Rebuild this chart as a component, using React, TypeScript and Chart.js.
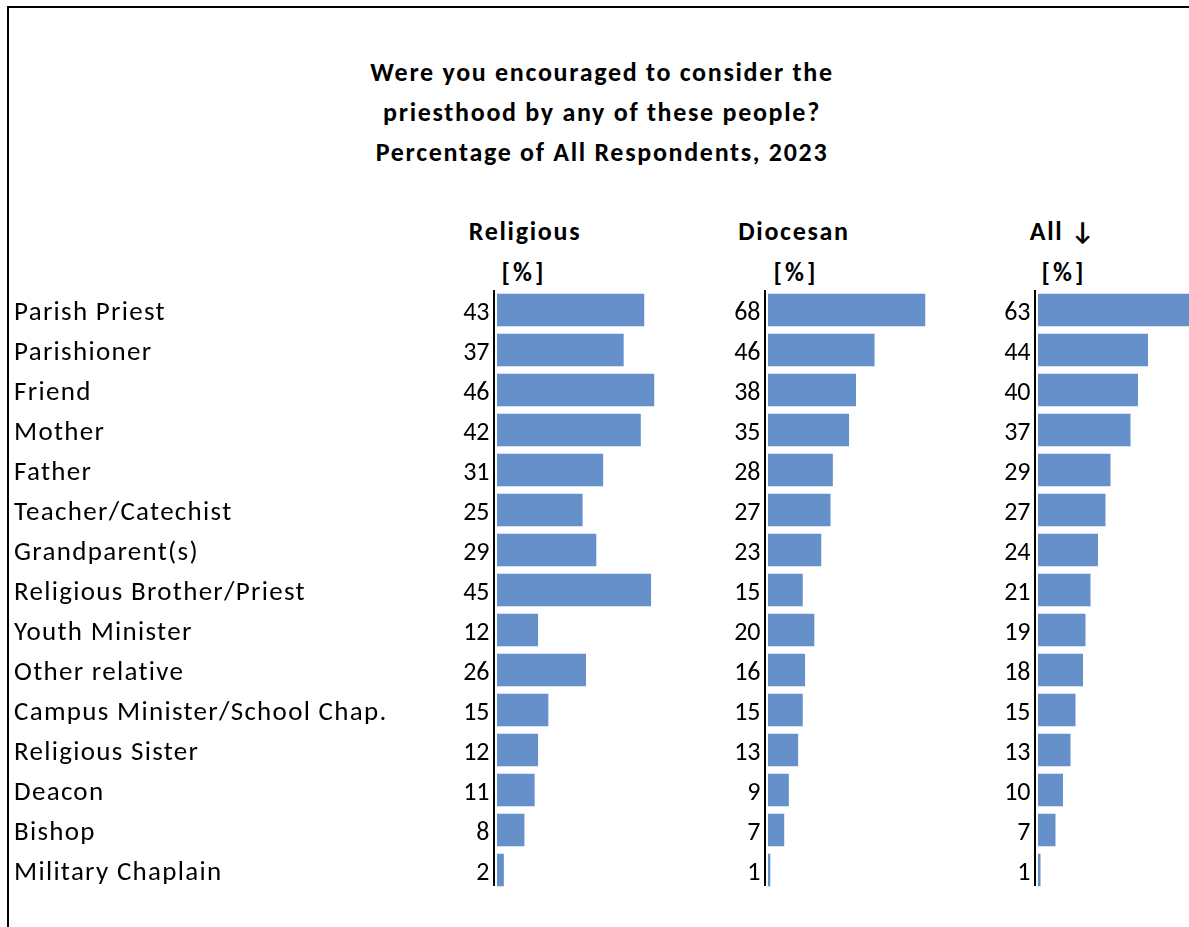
import React, { useEffect, useRef } from 'react';
import { Chart, registerables } from 'chart.js';
Chart.register(...registerables);

const categories = [
  'Parish Priest', 'Parishioner', 'Friend', 'Mother', 'Father', 'Teacher/Catechist',
  'Grandparent(s)', 'Religious Brother/Priest', 'Youth Minister', 'Other relative',
  'Campus Minister/School Chap.', 'Religious Sister', 'Deacon', 'Bishop', 'Military Chaplain',
];
const religiousValues = [43, 37, 46, 42, 31, 25, 29, 45, 12, 26, 15, 12, 11, 8, 2];
const diocesanValues = [68, 46, 38, 35, 28, 27, 23, 15, 20, 16, 15, 13, 9, 7, 1];
const allValues = [63, 44, 40, 37, 29, 27, 24, 21, 19, 18, 15, 13, 10, 7, 1];
const panelHeaders = ['Religious', 'Diocesan', 'All \u2193'];
const unitLabel = '[%]';
const titleLines = [
  'Were you encouraged to consider the',
  'priesthood by any of these people?',
  'Percentage of All Respondents, 2023',
];

const FONT = 'Carlito, Lato, "Liberation Sans", sans-serif';
const BAR_COLOR = '#6590C9';
const CANVAS_W = 1200;
const CANVAS_H = 927;
const PLOT_TOP = 290;
const PLOT_BOTTOM = 890;
const BAR_WIDTH = 157.5;
const LABEL_LEFT = 14;

const panels = [
  { values: religiousValues, left: 497, header: panelHeaders[0], headerX: 525, unitX: 524 },
  { values: diocesanValues, left: 768, header: panelHeaders[1], headerX: 794, unitX: 796 },
  { values: allValues, left: 1038, header: panelHeaders[2], headerX: 1063, unitX: 1064 },
];

function Panel({ index }: { index: number }) {
  const ref = useRef<HTMLCanvasElement | null>(null);
  useEffect(() => {
    const p = panels[index];
    const showLabels = index === 0;
    const valuePlugin = {
      id: 'values' + index,
      beforeDraw(chart: any) {
        chart.ctx.letterSpacing = '1.3px';
      },
      afterDatasetsDraw(chart: any) {
        const ctx = chart.ctx;
        const area = chart.chartArea;
        ctx.save();
        ctx.letterSpacing = '0px';
        ctx.strokeStyle = '#000';
        ctx.lineWidth = 2;
        ctx.beginPath();
        ctx.moveTo(area.left - 3, area.top);
        ctx.lineTo(area.left - 3, area.bottom - 4);
        ctx.stroke();
        ctx.fillStyle = '#000';
        ctx.font = '26px ' + FONT;
        ctx.textAlign = 'right';
        ctx.textBaseline = 'middle';
        const meta = chart.getDatasetMeta(0);
        meta.data.forEach((el: any, i: number) => {
          ctx.fillText(String(chart.data.datasets[0].data[i]), area.left - 7.5, el.y + 3);
        });
        ctx.restore();
      },
    };
    const chart = new Chart(ref.current as HTMLCanvasElement, {
      type: 'bar',
      data: {
        labels: categories,
        datasets: [
          {
            data: p.values,
            backgroundColor: BAR_COLOR,
            borderWidth: 0,
            barPercentage: 0.815,
            categoryPercentage: 1,
          },
        ],
      },
      options: {
        indexAxis: 'y',
        animation: false,
        responsive: false,
        maintainAspectRatio: false,
        devicePixelRatio: 1,
        layout: {
          padding: {
            left: showLabels ? LABEL_LEFT : p.left,
            right: CANVAS_W - (p.left + BAR_WIDTH),
            top: PLOT_TOP,
            bottom: CANVAS_H - PLOT_BOTTOM,
          },
        },
        plugins: { legend: { display: false }, tooltip: { enabled: false }, title: { display: false } },
        scales: {
          x: { display: false, min: 0, max: Math.max(...p.values) },
          y: showLabels
            ? {
                display: true,
                grid: { display: false },
                border: { display: false },
                ticks: {
                  crossAlign: 'far',
                  color: '#000',
                  padding: 0,
                  labelOffset: 3,
                  font: { family: FONT, size: 27 },
                },
                afterFit: (s: any) => {
                  s.width = p.left - LABEL_LEFT;
                },
              }
            : { display: false },
        },
      } as any,
      plugins: [valuePlugin],
    });
    return () => chart.destroy();
  }, [index]);
  return (
    <canvas
      ref={ref}
      width={CANVAS_W}
      height={CANVAS_H}
      style={{ position: 'fixed', left: 0, top: 0, width: CANVAS_W, height: CANVAS_H }}
    />
  );
}

function CenteredText({ text, x, y, size, spacing }: { text: string; x: number; y: number; size: number; spacing: number }) {
  return (
    <div
      style={{
        position: 'fixed',
        left: x - 300,
        top: y - 20,
        width: 600,
        height: 40,
        lineHeight: '40px',
        textAlign: 'center',
        fontFamily: FONT,
        fontSize: size,
        fontWeight: 700,
        letterSpacing: spacing,
        color: '#000',
        whiteSpace: 'nowrap',
      }}
    >
      {text}
    </div>
  );
}

export default function App() {
  useEffect(() => {
    document.body.style.overflow = 'hidden';
  }, []);
  return (
    <div>
      <div
        style={{
          position: 'fixed',
          left: 7,
          top: 6,
          width: 1260,
          height: 1000,
          border: '2px solid #000',
          boxSizing: 'border-box',
          background: '#fff',
        }}
      />
      {titleLines.map((t, i) => (
        <CenteredText key={t} text={t} x={602} y={72 + i * 40} size={26} spacing={1.7} />
      ))}
      {panels.map((p) => (
        <React.Fragment key={p.header}>
          <CenteredText text={p.header} x={p.headerX} y={231} size={26} spacing={1.7} />
          <CenteredText text={unitLabel} x={p.unitX} y={272} size={26} spacing={3} />
        </React.Fragment>
      ))}
      {panels.map((_, i) => (
        <Panel key={i} index={i} />
      ))}
    </div>
  );
}
